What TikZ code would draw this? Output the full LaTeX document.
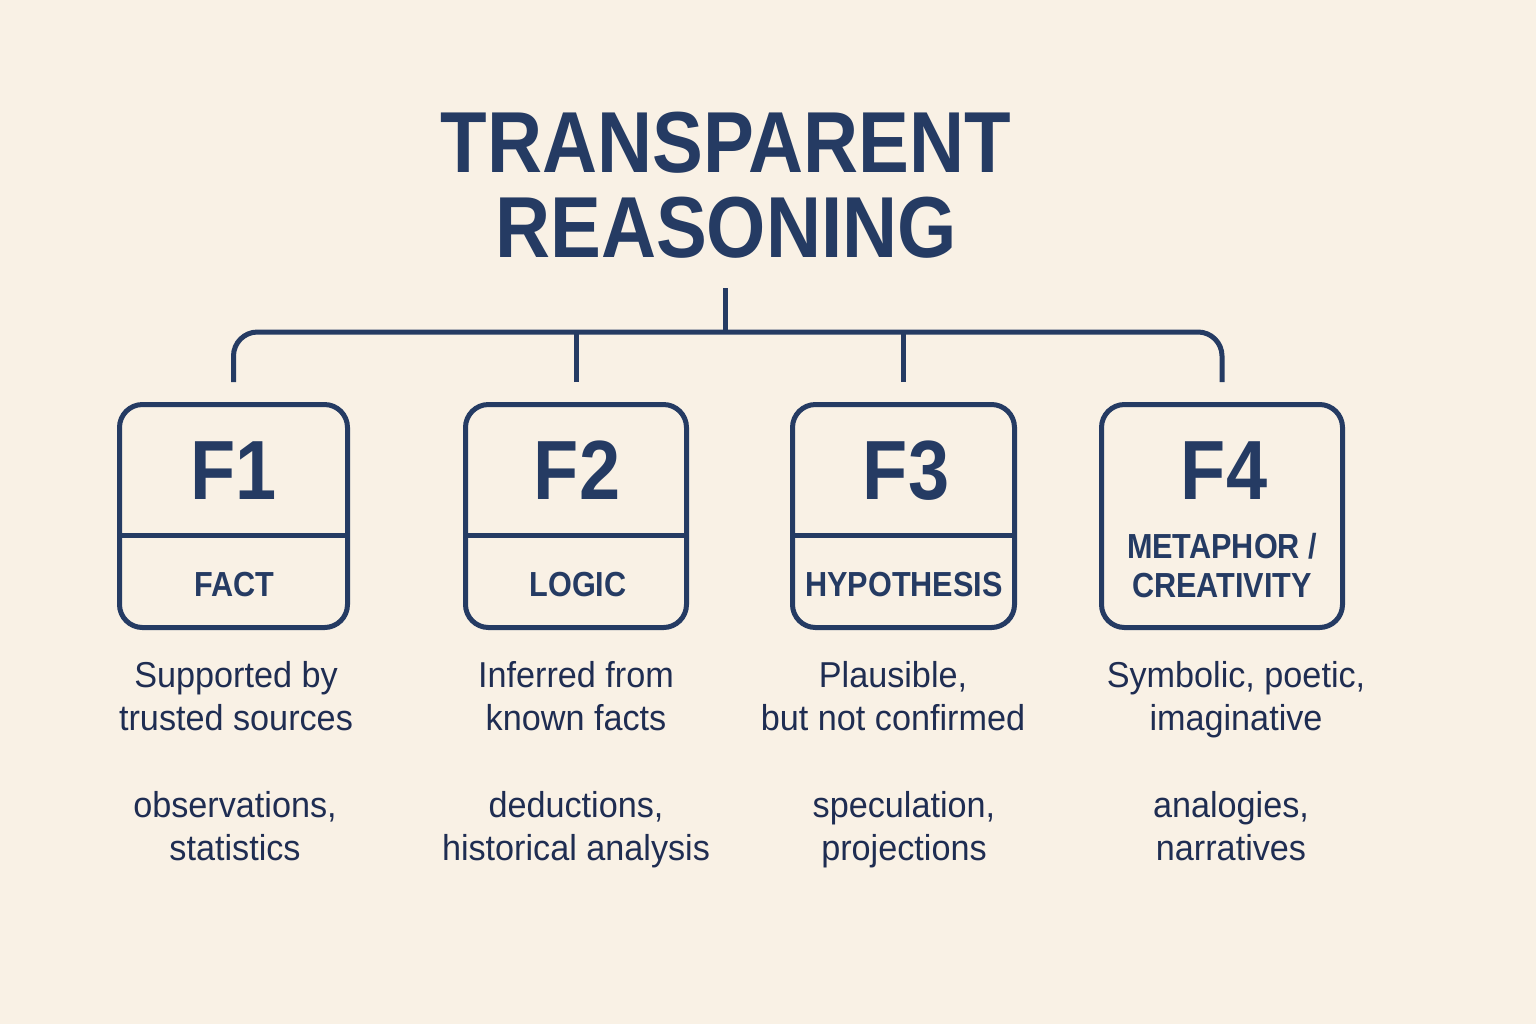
\documentclass[tikz,border=0pt]{standalone}
\usepackage{fontspec}
\newfontfamily\headfont[FakeStretch=0.88]{Liberation Sans}
\newfontfamily\bodyfont[FakeStretch=0.95]{Liberation Sans}
\definecolor{paper}{HTML}{F9F1E5}
\definecolor{ink}{HTML}{253B63}
\definecolor{textink}{HTML}{1F2D52}

\tikzset{
  link/.style={draw=ink, line width=2.5pt},
  fbox/.style={draw=ink, line width=2.5pt, rounded corners=11.5pt, minimum height=111.5pt, inner sep=0pt},
  fnum/.style={text=ink, anchor=base, inner sep=0pt, font=\headfont\bfseries\fontsize{42}{42}\selectfont},
  flabel/.style={text=ink, anchor=base, inner sep=0pt, align=center, font=\headfont\bfseries\fontsize{17.4}{19.5}\selectfont},
  desc/.style={text=textink, anchor=base, inner sep=0pt, align=center, font=\bodyfont\fontsize{18}{21.5}\selectfont},
}

\begin{document}
\begin{tikzpicture}[x=0.5pt, y=-0.5pt]
  % canvas
  \fill[paper] (0,0) rectangle (1536,1024);
  \useasboundingbox (0,0) rectangle (1536,1024);

  % heading (base anchor sits on the last line)
  \node[text=ink, anchor=base, inner sep=0pt, align=center,
        font=\headfont\bfseries\fontsize{43.3}{42.5}\selectfont] (title) at (726,257)
        {TRANSPARENT\\REASONING};

  % category boxes
  \node[fbox, minimum width=114pt]   (f1) at (233.5,516) {};
  \node[fbox, minimum width=110.5pt] (f2) at (576,516) {};
  \node[fbox, minimum width=111pt]   (f3) at (903.5,516) {};
  \node[fbox, minimum width=120.5pt] (f4) at (1222,516) {};

  % dividers under the numbers
  \coordinate (split) at (0,535);
  \foreach \b in {f1,f2,f3}
    \draw[link] (\b.west |- split) -- (\b.east |- split);

  % tree connectors
  \coordinate (hub) at (725,288);
  \coordinate (bar) at (725,332);
  \draw[link] (hub) -- (bar);
  \draw[link, rounded corners=12pt] ([yshift=10pt]f1.north) |- (bar) -| ([yshift=10pt]f4.north);
  \draw[link] ([yshift=10pt]f2.north) -- (f2.north |- bar);
  \draw[link] ([yshift=10pt]f3.north) -- (f3.north |- bar);

  % numbers and names
  \node[fnum] (n1) at (233.5,499) {F1};
  \node[fnum] (n2) at (577,499) {F2};
  \node[fnum] (n3) at (906,499) {F3};
  \node[fnum] (n4) at (1224,499) {F4};
  \node[flabel] (l1) at (234,596) {FACT};
  \node[flabel] (l2) at (578,596) {LOGIC};
  \node[flabel] (l3) at (904,596) {HYPOTHESIS};
  \node[flabel] (l4) at (1222,597) {METAPHOR /\\CREATIVITY};

  % descriptions
  \node[desc] (d1) at (236,730) {Supported by\\trusted sources};
  \node[desc] (d2) at (576,730) {Inferred from\\known facts};
  \node[desc] (d3) at (893,730) {Plausible,\\but not confirmed};
  \node[desc] (d4) at (1236,730) {Symbolic, poetic,\\imaginative};

  % examples
  \node[desc] (e1) at (235,860) {observations,\\statistics};
  \node[desc] (e2) at (576,860) {deductions,\\historical analysis};
  \node[desc] (e3) at (904,860) {speculation,\\projections};
  \node[desc] (e4) at (1231,860) {analogies,\\narratives};
\end{tikzpicture}
\end{document}
